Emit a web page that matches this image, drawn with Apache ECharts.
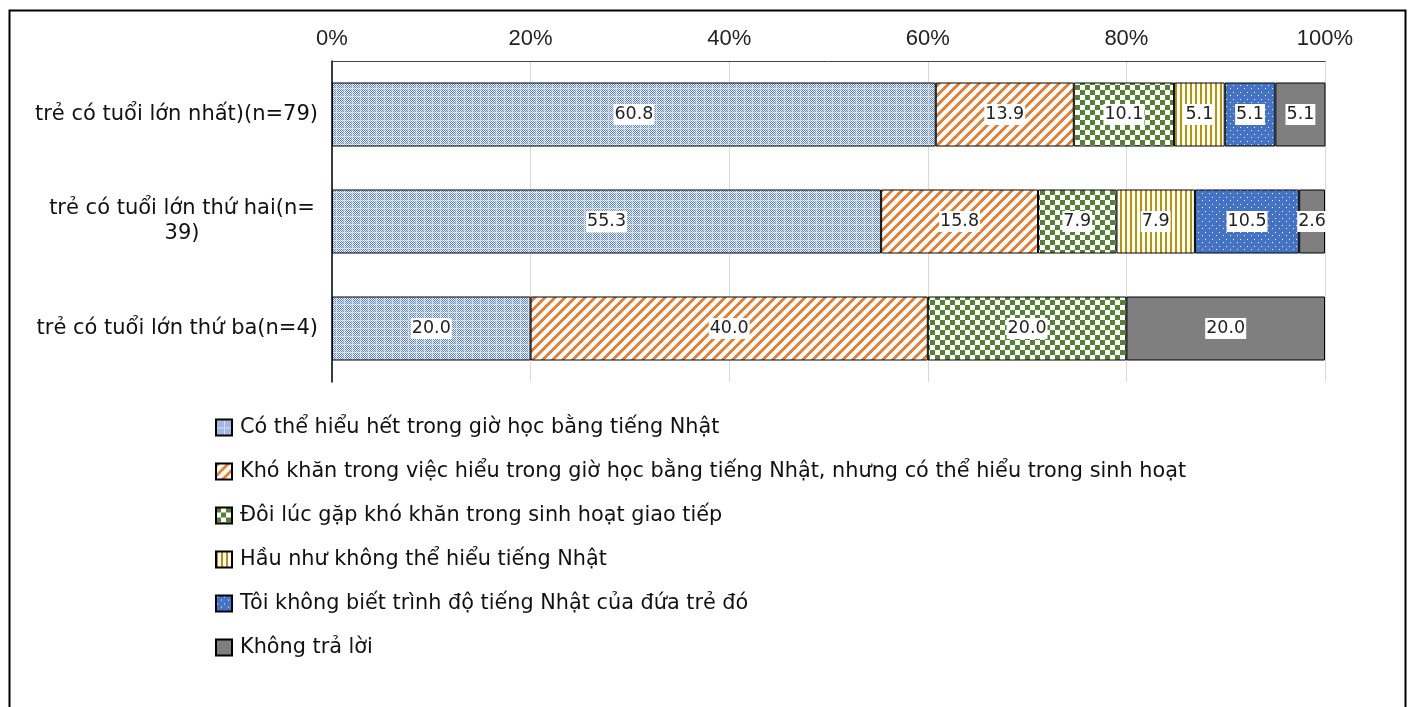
<!DOCTYPE html>
<html><head><meta charset="utf-8">
<script src="https://cdn.jsdelivr.net/npm/echarts@6/dist/echarts.min.js"></script>
<style>html,body{margin:0;padding:0;background:#fff}#c{width:1410px;height:707px}</style>
</head><body><div id="c"></div>
<script>
const categories = ['trẻ có tuổi lớn nhất)(n=79)', 'trẻ có tuổi lớn thứ hai(n=\n39)', 'trẻ có tuổi lớn thứ ba(n=4)'];
const seriesNames = [
  'Có thể hiểu hết trong giờ học bằng tiếng Nhật',
  'Khó khăn trong việc hiểu trong giờ học bằng tiếng Nhật, nhưng có thể hiểu trong sinh hoạt',
  'Đôi lúc gặp khó khăn trong sinh hoạt giao tiếp',
  'Hầu như không thể hiểu tiếng Nhật',
  'Tôi không biết trình độ tiếng Nhật của đứa trẻ đó',
  'Không trả lời'
];
const s1 = [60.8, 55.3, 20.0];
const s2 = [13.9, 15.8, 40.0];
const s3 = [10.1, 7.9, 20.0];
const s4 = [5.1, 7.9, null];
const s5 = [5.1, 10.5, null];
const s6 = [5.1, 2.6, 20.0];
const xTicks = ['0%', '20%', '40%', '60%', '80%', '100%'];

function tile(w, h, fn) {
  const c = document.createElement('canvas');
  c.width = w; c.height = h;
  const ctx = c.getContext('2d');
  ctx.fillStyle = '#fff'; ctx.fillRect(0, 0, w, h);
  for (let y = 0; y < h; y++) for (let x = 0; x < w; x++) {
    const col = fn(x, y);
    if (col) { ctx.fillStyle = col; ctx.fillRect(x, y, 1, 1); }
  }
  return { image: c, repeat: 'repeat' };
}
const pBlueGrid = tile(8, 8, (x, y) => {
  if (x % 8 === 0 || y % 8 === 0) return ((x + y) % 2 === 0) ? '#a9bfe8' : null;
  return ((x + y) % 2 === 0) ? '#5f86cf' : '#e6ecf8';
});
const pOrange = tile(10, 10, (x, y) => (((x + y) % 10) < 4 ? '#ED7D31' : null));
const pGreen = tile(10, 10, (x, y) => ((Math.floor(x / 5) + Math.floor(y / 5)) % 2 === 0 ? '#548235' : null));
const pGold = tile(5, 4, (x, y) => (x < 2 ? '#BF9000' : null));
const pDots = tile(7, 7, (x, y) => {
  if ((x === 1 && y === 1) || (x === 5 && y === 4)) return '#ffffff';
  return '#4472C4';
});
const pGray = '#7F7F7F';
const patterns = [pBlueGrid, pOrange, pGreen, pGold, pDots, pGray];
const values = [s1, s2, s3, s4, s5, s6];

const FONT = 'DejaVu Sans';
const chart = echarts.init(document.getElementById('c'));
chart.setOption({
  animation: false,
  backgroundColor: '#fff',
  textStyle: { fontFamily: FONT },
  graphic: [{
    type: 'rect', left: 7, top: 8, shape: { width: 1396, height: 720 },
    style: { fill: 'none', stroke: '#000', lineWidth: 2 }, silent: true
  }],
  grid: { left: 332, right: 85, top: 61, height: 321 },
  legend: {
    orient: 'vertical', left: 210, top: 412, itemWidth: 16, itemHeight: 16, itemGap: 23,
    icon: 'rect',
    textStyle: { fontSize: 20.8, color: '#111', fontFamily: FONT, height: 21, lineHeight: 21, padding: [0, 0, 0, 3] },
    data: seriesNames
  },
  xAxis: {
    type: 'value', position: 'top', min: 0, max: 100, interval: 20,
    axisLine: { show: true, lineStyle: { color: '#444', width: 1 } },
    axisTick: { show: false },
    splitLine: { show: true, lineStyle: { color: '#d9d9d9', width: 1 } },
    axisLabel: { fontSize: 22, color: '#222', margin: 11, fontFamily: 'Liberation Sans', formatter: (v) => xTicks[Math.round(v / 20)] }
  },
  yAxis: {
    type: 'category', inverse: true, data: categories,
    axisLine: { show: true, lineStyle: { color: '#000', width: 1.5 } },
    axisTick: { show: false },
    axisLabel: {
      fontSize: 21, color: '#111', margin: 14, lineHeight: 25, align: 'right', fontFamily: FONT,
      formatter: (v) => v.indexOf('\n') >= 0 ? v.split('\n').map(s => '{w|' + s + '}').join('\n') : v,
      rich: { w: { width: 272, align: 'center', fontSize: 21, color: '#111', lineHeight: 25, fontFamily: FONT } }
    }
  },
  series: seriesNames.map((name, i) => ({
    name: name, type: 'bar', stack: 'total', barWidth: 64,
    data: values[i],
    itemStyle: { color: patterns[i], borderColor: '#000', borderWidth: 1 },
    label: {
      show: true, position: 'inside', color: '#222', fontSize: 17.5, fontFamily: FONT,
      backgroundColor: '#fff', padding: [2, 1, 1, 1],
      formatter: (p) => (p.value == null ? '' : Number(p.value).toFixed(1))
    }
  }))
});
</script></body></html>
